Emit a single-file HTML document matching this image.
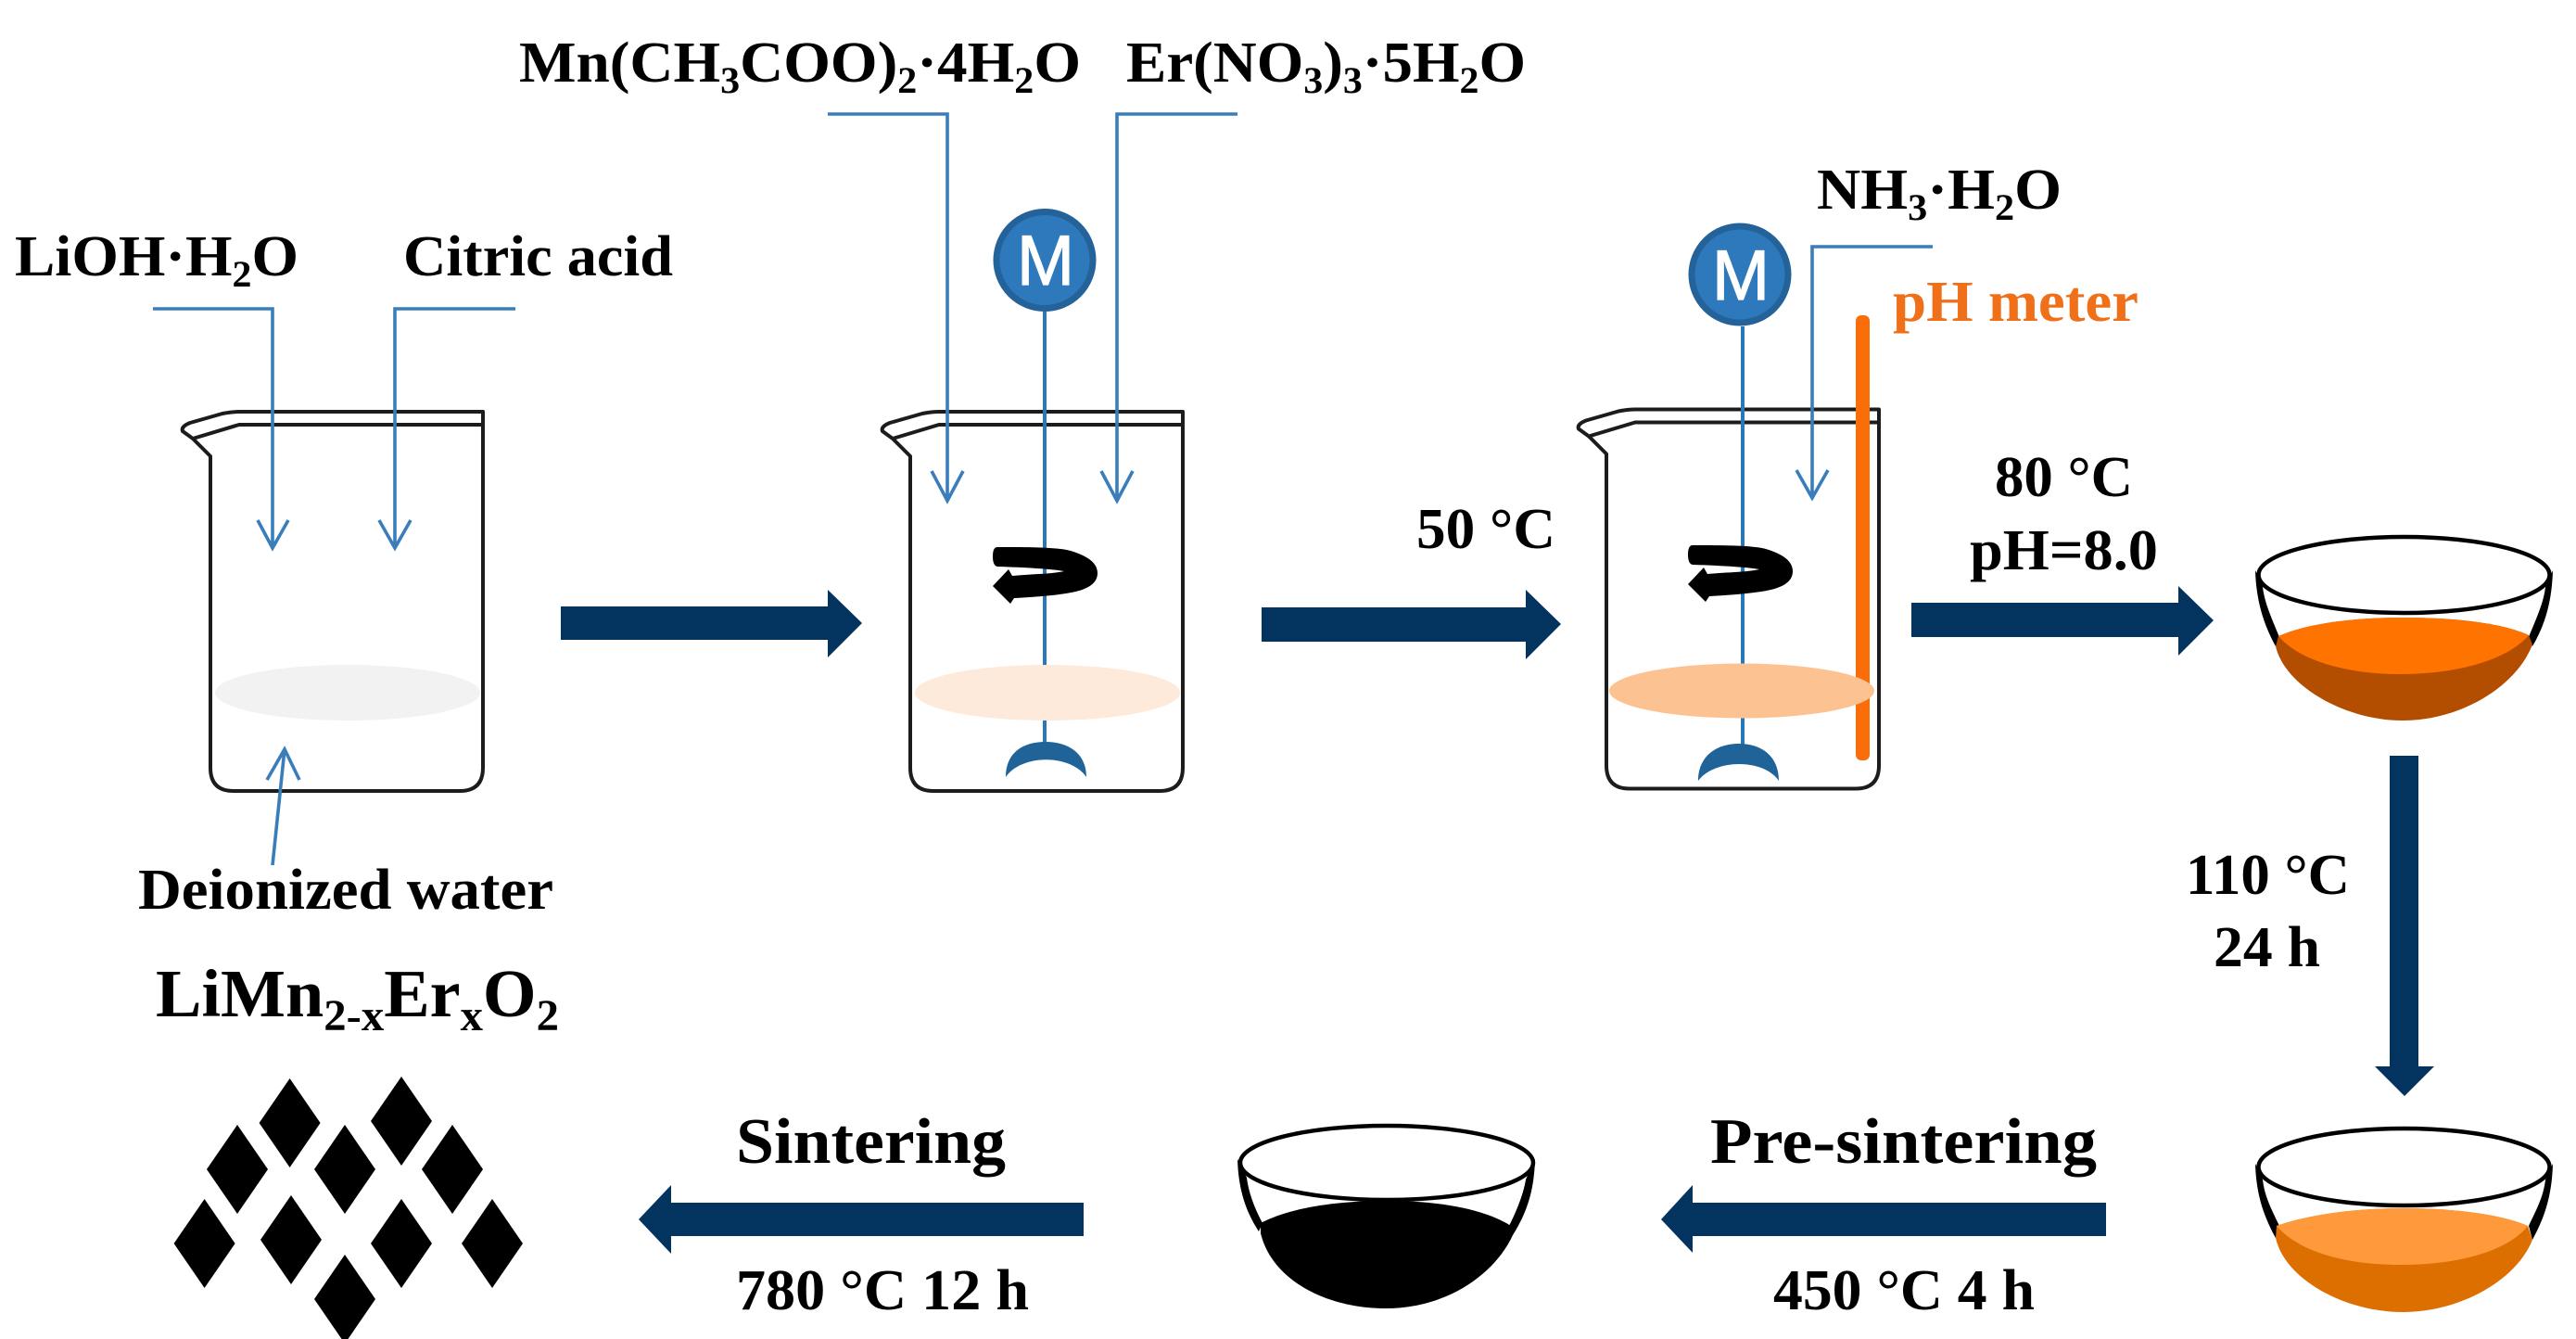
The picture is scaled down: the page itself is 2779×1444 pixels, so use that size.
<!DOCTYPE html>
<html><head><meta charset="utf-8"><style>
html,body{margin:0;padding:0;background:#fff;width:2779px;height:1444px;overflow:hidden}
svg{display:block}
text{font-family:"Liberation Serif",serif;font-weight:700;fill:#000}
.m{font-family:"Liberation Sans",sans-serif;font-weight:400;fill:#fff;font-size:76px;stroke:#fff;stroke-width:1.2px}
.s{font-size:40px}
</style></head><body>
<svg width="2779" height="1444" viewBox="0 0 2779 1444" xmlns="http://www.w3.org/2000/svg">
<defs>
<path id="bk" d="M258,444H521V828Q521,853 496,853H252Q227,853 227,828V492L208,473L197,465Q195,460 205,456L240,446Q250,444 258,444ZM208,473L258,458H521" fill="none" stroke="#1c1c1c" stroke-width="4" stroke-linejoin="round"/>
<path id="rot" d="M1076,590C1110,590 1140,590 1155,594C1175,600 1184,608 1184,618C1184,631 1170,637 1150,640C1130,643 1110,644 1094,645L1090,651L1071,632L1088,614L1092,621C1115,619 1135,619 1148,616C1138,614 1110,612 1076,611Q1071,610 1071,600Q1071,590 1076,590Z" fill="#000"/>
<polygon id="dm" points="0,-48 33,0 0,48 -33,0" fill="#000"/>
</defs>

<!-- beakers -->
<use href="#bk"/>
<use href="#bk" transform="translate(755,0)"/>
<use href="#bk" transform="translate(1506,-2.500)"/>

<!-- pH rod -->
<rect x="2002" y="340" width="15" height="480" rx="6" fill="#fb6d08"/>

<!-- shafts -->
<g stroke="#2a78b8" stroke-width="4" fill="none">
<path d="M1127,336V805"/>
<path d="M1880,352V806"/>
</g>
<ellipse cx="375" cy="747" rx="143" ry="30" fill="#f2f2f2"/>
<ellipse cx="1130" cy="747" rx="143" ry="30" fill="#fdeadb"/>
<ellipse cx="1879" cy="745" rx="143" ry="29.500" fill="#fdc291"/>

<!-- stirrers -->
<path d="M1085,838C1085,812 1103,800 1128,800C1152,800 1172,812 1172,838C1155,813 1102,813 1085,838Z" fill="#1f6399"/>
<path d="M1832,842C1832,816 1851,802 1876,802C1901,802 1919,816 1919,842C1903,818 1850,818 1832,842Z" fill="#1f6399"/>
<use href="#rot"/>
<use href="#rot" transform="translate(750,-2)"/>

<!-- motors -->
<circle cx="1127" cy="280.500" r="52" fill="#2e79bc" stroke="#24629a" stroke-width="7"/>
<circle cx="1877" cy="296" r="52" fill="#2e79bc" stroke="#24629a" stroke-width="7"/>
<text class="m" x="1097" y="307" textLength="62" lengthAdjust="spacingAndGlyphs">M</text>
<text class="m" x="1847" y="323" textLength="62" lengthAdjust="spacingAndGlyphs">M</text>

<!-- thin arrows -->
<g stroke="#3a7dbb" stroke-width="3.600" fill="none" stroke-linejoin="miter">
<path d="M165,333H294V591M278,561L294,591L311,561"/>
<path d="M556,333H426V591M409,561L426,591L443,561"/>
<path d="M893,123H1022V540M1005,508L1022,540L1039,508"/>
<path d="M1335,123H1205V540M1188,508L1205,540L1222,508"/>
<path d="M2085,266H1955V537M1938,507L1955,537L1972,507"/>
<path d="M294,933L307,808M288,841L307,808L323,841"/>
</g>

<!-- navy block arrows -->
<g fill="#03335f">
<polygon points="605,654 893,654 893,636 930,672 893,709 893,690 605,690"/>
<polygon points="1361,655 1646,655 1646,636 1684,673 1646,711 1646,692 1361,692"/>
<polygon points="2062,650 2350,650 2350,632 2388,669 2350,707 2350,687 2062,687"/>
<polygon points="2578,815 2609,815 2609,1150 2626,1150 2594,1182 2562,1150 2578,1150"/>
<polygon points="2272,1297 1826,1297 1826,1278 1792,1315 1826,1351 1826,1333 2272,1333"/>
<polygon points="1169,1297 724,1297 724,1278 689,1315 724,1352 724,1333 1169,1333"/>
</g>

<!-- bowl orange top -->
<path d="M2433,615C2434,650 2443,675 2455,697L2459,687C2450,665 2443,650 2441,633Z" fill="#000"/>
<path d="M2754,615C2753,650 2745,675 2732,697L2728,687C2737,665 2744,650 2746,633Z" fill="#000"/>
<path d="M2455,697L2458,686C2490,672 2540,666 2592,666C2650,666 2700,672 2728,685L2732,695C2715,740 2655,777 2592,777C2530,777 2465,740 2455,697Z" fill="#b34d00"/>
<path d="M2458,686C2490,672 2540,666 2592,666C2650,666 2700,672 2728,685C2705,712 2650,727 2590,727C2530,727 2480,712 2458,686Z" fill="#ff7300"/>
<ellipse cx="2593.500" cy="620" rx="157" ry="41" fill="#fff" stroke="#000" stroke-width="4.500"/>

<!-- bowl orange bottom -->
<path d="M2433,1255C2434,1290 2443,1313 2455,1335L2459,1322C2450,1303 2443,1290 2441,1272Z" fill="#000"/>
<path d="M2754,1255C2753,1290 2745,1313 2732,1337L2728,1322C2737,1303 2744,1290 2746,1272Z" fill="#000"/>
<path d="M2455,1335L2456,1322C2490,1310 2540,1303 2592,1303C2650,1303 2700,1310 2727,1322L2732,1337C2715,1380 2655,1415 2592,1415C2530,1415 2465,1380 2455,1335Z" fill="#dd6f00"/>
<path d="M2456,1322C2490,1310 2540,1303 2592,1303C2650,1303 2700,1310 2727,1322C2705,1350 2650,1364 2590,1364C2530,1364 2480,1350 2456,1322Z" fill="#ff9a3c"/>
<ellipse cx="2593.500" cy="1258.500" rx="157" ry="41.500" fill="#fff" stroke="#000" stroke-width="4.500"/>

<!-- bowl black -->
<path d="M1335,1250C1336,1285 1345,1308 1358,1328L1362,1319C1352,1300 1347,1285 1345,1270Z" fill="#000"/>
<path d="M1656,1250C1655,1285 1647,1308 1632,1332L1628,1322C1638,1302 1644,1285 1646,1272Z" fill="#000"/>
<path d="M1360,1319C1390,1303 1440,1295 1495,1295C1550,1295 1600,1303 1630,1322L1632,1332C1612,1375 1560,1411 1495,1411C1430,1411 1372,1380 1360,1330Z" fill="#000"/>
<ellipse cx="1496" cy="1254" rx="158" ry="40" fill="#fff" stroke="#000" stroke-width="4.500"/>

<!-- diamonds -->
<use href="#dm" x="312.600" y="1211"/>
<use href="#dm" x="433" y="1209"/>
<use href="#dm" x="256" y="1261"/>
<use href="#dm" x="372" y="1261"/>
<use href="#dm" x="488" y="1261"/>
<use href="#dm" x="220.600" y="1341"/>
<use href="#dm" x="314" y="1337"/>
<use href="#dm" x="433" y="1341"/>
<use href="#dm" x="531" y="1341"/>
<use href="#dm" x="372" y="1401"/>

<!-- labels -->
<g font-size="62">
<text x="560" y="88" textLength="606" lengthAdjust="spacingAndGlyphs">Mn(CH<tspan class="s" dy="12">3</tspan><tspan dy="-12">COO)</tspan><tspan class="s" dy="12">2</tspan><tspan dy="-12">·4H</tspan><tspan class="s" dy="12">2</tspan><tspan dy="-12">O</tspan></text>
<text x="1215" y="88" textLength="431" lengthAdjust="spacingAndGlyphs">Er(NO<tspan class="s" dy="12">3</tspan><tspan dy="-12">)</tspan><tspan class="s" dy="12">3</tspan><tspan dy="-12">·5H</tspan><tspan class="s" dy="12">2</tspan><tspan dy="-12">O</tspan></text>
<text x="16" y="297" textLength="306" lengthAdjust="spacingAndGlyphs">LiOH·H<tspan class="s" dy="12">2</tspan><tspan dy="-12">O</tspan></text>
<text x="435" y="297" textLength="291" lengthAdjust="spacingAndGlyphs">Citric acid</text>
<text x="149" y="980" textLength="448" lengthAdjust="spacingAndGlyphs">Deionized water</text>
<text x="1960" y="225" textLength="264" lengthAdjust="spacingAndGlyphs">NH<tspan class="s" dy="12">3</tspan><tspan dy="-12">·H</tspan><tspan class="s" dy="12">2</tspan><tspan dy="-12">O</tspan></text>
<text x="2042" y="346" textLength="265" lengthAdjust="spacingAndGlyphs" style="fill:#f0701a">pH meter</text>
<text x="1528" y="591" textLength="150" lengthAdjust="spacingAndGlyphs">50 °C</text>
<text x="2152" y="535" textLength="149" lengthAdjust="spacingAndGlyphs">80 °C</text>
<text x="2125" y="614" textLength="203" lengthAdjust="spacingAndGlyphs">pH=8.0</text>
<text x="2358" y="964" textLength="177" lengthAdjust="spacingAndGlyphs">110 °C</text>
<text x="2388" y="1042" textLength="115" lengthAdjust="spacingAndGlyphs">24 h</text>
<text x="794" y="1412" textLength="316" lengthAdjust="spacingAndGlyphs">780 °C 12 h</text>
<text x="1913" y="1412" textLength="282" lengthAdjust="spacingAndGlyphs">450 °C 4 h</text>
</g>
<g font-size="70">
<text x="794" y="1254" textLength="291" lengthAdjust="spacingAndGlyphs">Sintering</text>
<text x="1845" y="1254" textLength="417" lengthAdjust="spacingAndGlyphs">Pre-sintering</text>
<text x="168" y="1096" font-size="73" textLength="435" lengthAdjust="spacingAndGlyphs">LiMn<tspan font-size="48" dy="15">2-x</tspan><tspan dy="-15">Er</tspan><tspan font-size="48" dy="15">x</tspan><tspan dy="-15">O</tspan><tspan font-size="48" dy="15">2</tspan></text>
</g>
</svg>
</body></html>
